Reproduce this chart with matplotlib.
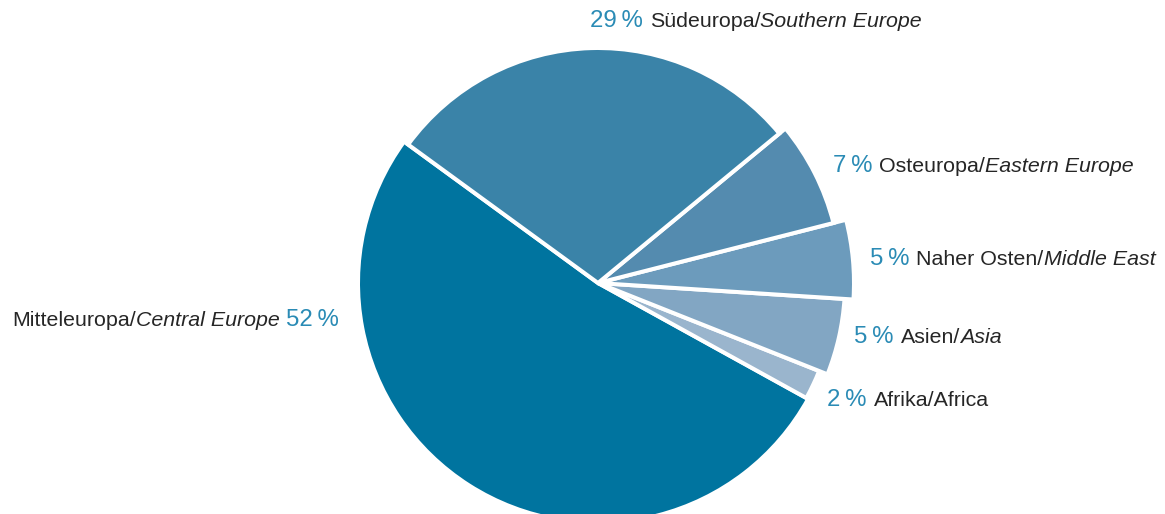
import matplotlib
matplotlib.use("Agg")
import matplotlib.pyplot as plt

# ---- data ----
regions_de = ["Mitteleuropa", "Afrika", "Asien", "Naher Osten", "Osteuropa", "Südeuropa"]
regions_en = ["Central Europe", "Africa", "Asia", "Middle East", "Eastern Europe", "Southern Europe"]
shares = [52, 2, 5, 5, 7, 29]
colors = ["#00749F", "#9AB5CD", "#82A6C3", "#6C9BBC", "#548BAF", "#3A83A8"]
radii = [240, 238, 247, 256, 243, 235]
italic_en = [True, False, True, True, True, True]

W, H = 1165, 514
fig = plt.figure(figsize=(W / 100, H / 100), dpi=100)
ax = fig.add_axes([0, 0, 1, 1])

center = (598, H - 283)
wedges, _ = ax.pie(shares, colors=colors, startangle=143.9, counterclock=True,
                   center=center, radius=radii[0],
                   wedgeprops=dict(edgecolor="white", linewidth=2.9))
for w, r in zip(wedges, radii):
    w.set_radius(r)

ax.set_xlim(0, W)
ax.set_ylim(0, H)
ax.set_aspect("auto")
ax.axis("off")

FONT = "Liberation Sans"
PCT_COLOR = "#2A8BB5"
TXT_COLOR = "#262626"

label_pos = {
    "Mitteleuropa": (12, 326, False),
    "Afrika": (827, 406, True),
    "Asien": (854, 343, True),
    "Naher Osten": (870, 265, True),
    "Osteuropa": (833, 172, True),
    "Südeuropa": (590, 27, True),
}

renderer = fig.canvas.get_renderer()

def place(parts, x, y_top):
    y = H - y_top
    for s, props, gap in parts:
        t = ax.text(x, y, s, ha="left", va="baseline", family=FONT, **props)
        bb = t.get_window_extent(renderer=renderer)
        x = x + bb.width + gap

for de, en, v, it in zip(regions_de, regions_en, shares, italic_en):
    x0, yb, pct_first = label_pos[de]
    pct = (f"{v}\u2009%", dict(fontsize=17.3, color=PCT_COLOR), 7)
    if it:
        names = [(de + "/", dict(fontsize=15.4, color=TXT_COLOR), 0),
                 (en, dict(fontsize=15.4, color=TXT_COLOR, style="italic"), 7)]
    else:
        names = [(de + "/" + en, dict(fontsize=15.4, color=TXT_COLOR), 7)]
    parts = [pct] + names if pct_first else names + [pct]
    place(parts, x0, yb)

fig.savefig("out.png", dpi=100)
